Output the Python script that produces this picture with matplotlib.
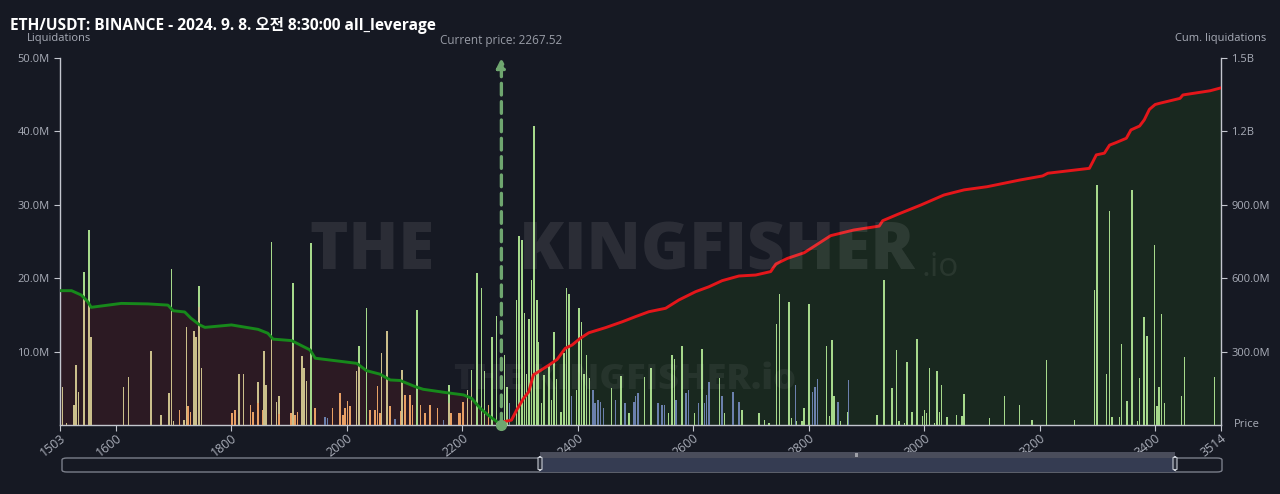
import matplotlib
matplotlib.use("Agg")
import matplotlib.pyplot as plt
import matplotlib.patches as patches
from matplotlib.ticker import FuncFormatter

plt.rcParams['font.family'] = ['Open Sans', 'Noto Sans CJK KR', 'DejaVu Sans']

# ---- data (price, value in M) ----
current_price = 2267.52

orange_price = [1710, 1725, 1729, 1801, 1806, 1833, 1837, 1846, 1855, 1882, 1902, 1904, 1910, 1914,
                1945, 1975, 1988, 1993, 1997, 2001, 2005, 2040, 2049, 2053, 2057, 2075, 2094, 2101,
                2109, 2114, 2127, 2135, 2144, 2157, 2180, 2193, 2196, 2201, 2245]
orange_value = [2.1, 2.6, 1.8, 1.6, 2.1, 2.7, 1.8, 3.0, 2.1, 1.5, 1.7, 1.6, 1.4, 1.8,
                2.3, 2.3, 4.3, 1.4, 2.3, 3.3, 2.6, 2.0, 2.0, 5.3, 1.6, 2.6, 1.9, 4.1,
                4.1, 2.7, 2.7, 1.6, 2.7, 2.3, 1.6, 1.6, 1.7, 3.2, 2.7]

khaki_price = [1507, 1514, 1527, 1531, 1535, 1545, 1553, 1557, 1613, 1622, 1661, 1678, 1692, 1696,
               1700, 1718, 1722, 1735, 1739, 1744, 1748, 1813, 1821, 1846, 1856, 1860, 1869, 1878,
               1882, 1907, 1922, 1926, 1930, 2017, 2021, 2060, 2069, 2095, 2177, 2209, 2216]
khaki_value = [5.2, 0.3, 2.7, 8.2, 4.5, 17.0, 16.5, 12.0, 5.2, 6.6, 10.1, 1.4, 4.3, 15.4,
               0.5, 0.7, 13.4, 12.8, 12.0, 16.1, 7.7, 7.0, 7.0, 2.8, 10.1, 5.4, 11.6, 3.1,
               2.5, 10.7, 9.4, 7.7, 6.0, 7.3, 8.0, 9.8, 12.8, 7.5, 3.0, 4.8, 5.0]

blue_price = [1962, 1966, 2083, 2167, 2282, 2389, 2426, 2430, 2435, 2439, 2444, 2465, 2482, 2497,
              2500, 2504, 2539, 2546, 2550, 2570, 2587, 2592, 2609, 2619, 2623, 2627, 2650, 2669,
              2679, 2777, 2806, 2811, 2815, 2851, 2869]
blue_value = [1.1, 1.0, 0.8, 0.7, 3.0, 3.9, 4.8, 3.0, 3.4, 3.2, 2.3, 3.4, 3.0, 3.2,
              3.9, 4.3, 3.0, 2.7, 2.7, 3.4, 4.3, 4.8, 3.0, 3.0, 4.1, 5.9, 3.9, 4.5,
              3.2, 5.5, 4.5, 5.2, 6.2, 3.2, 6.1]

green_price = [1504, 1545, 1553, 1696, 1744, 1869, 1907, 1938, 2021, 2034, 2121, 2177, 2216, 2225,
               2233, 2238, 2251, 2259, 2273, 2277, 2294, 2298, 2303, 2308, 2311, 2315, 2320, 2324,
               2329, 2332, 2337, 2341, 2350, 2354, 2359, 2363, 2371, 2376, 2380, 2385, 2398, 2402,
               2406, 2411, 2415, 2420, 2458, 2475, 2489, 2515, 2527, 2557, 2563, 2567, 2580, 2602,
               2615, 2645, 2654, 2684, 2714, 2723, 2731, 2744, 2749, 2766, 2770, 2779, 2788, 2792,
               2800, 2831, 2836, 2840, 2844, 2855, 2867, 2918, 2930, 2944, 2952, 2956, 2966, 2970,
               2979, 2987, 2997, 3000, 3004, 3009, 3018, 3022, 3026, 3030, 3039, 3056, 3065, 3069,
               3113, 3139, 3165, 3187, 3212, 3260, 3295, 3299, 3316, 3321, 3325, 3338, 3342, 3351,
               3360, 3369, 3373, 3381, 3386, 3399, 3403, 3407, 3411, 3416, 3446, 3451, 3503]
green_value = [4.8, 3.8, 10.1, 5.9, 2.9, 13.4, 8.7, 24.8, 2.7, 15.9, 15.7, 2.4, 2.5, 20.7,
               18.6, 7.3, 12.0, 14.8, 9.6, 5.2, 17.0, 25.7, 25.2, 15.2, 7.0, 14.5, 19.8, 40.7,
               17.0, 11.3, 3.0, 6.8, 8.2, 3.4, 12.7, 6.2, 1.8, 9.8, 18.6, 17.9, 4.8, 15.9,
               14.0, 7.0, 9.6, 6.4, 5.0, 6.7, 1.6, 6.6, 7.7, 1.6, 9.6, 9.0, 10.8, 1.6,
               10.3, 6.4, 1.6, 2.0, 1.7, 0.7, 0.3, 13.8, 17.8, 16.7, 0.9, 0.5, 0.5, 2.3,
               16.5, 10.8, 1.2, 11.6, 3.9, 0.5, 1.8, 1.4, 19.7, 5.0, 10.2, 0.5, 0.3, 8.6,
               1.8, 11.7, 1.2, 2.0, 1.6, 7.7, 0.3, 7.3, 1.8, 5.5, 1.1, 1.4, 1.2, 4.2,
               0.9, 4.0, 2.7, 0.7, 8.8, 0.7, 18.4, 32.7, 6.9, 29.1, 1.1, 1.1, 11.0, 3.3,
               32.0, 0.5, 6.4, 14.7, 12.1, 24.5, 2.6, 5.2, 15.1, 3.0, 4.0, 9.2, 6.5]

# cumulative liquidations (B)
long_cum_price = [1503, 1523, 1540, 1551, 1557, 1580, 1609, 1655, 1690, 1699, 1719, 1730, 1745, 1754,
                  1800, 1846, 1863, 1872, 1904, 1936, 1945, 2017, 2034, 2057, 2075, 2092, 2118, 2132,
                  2173, 2202, 2216, 2231, 2248, 2267.52]
long_cum_value = [0.549, 0.549, 0.531, 0.504, 0.481, 0.488, 0.497, 0.495, 0.490, 0.467, 0.462, 0.436,
                  0.409, 0.399, 0.409, 0.391, 0.375, 0.351, 0.345, 0.307, 0.273, 0.252, 0.222, 0.208,
                  0.184, 0.182, 0.157, 0.146, 0.132, 0.123, 0.109, 0.068, 0.034, 0.0]

short_cum_price = [2267.52, 2271, 2285, 2294, 2306, 2315, 2323, 2332, 2350, 2358, 2364, 2378, 2390,
                   2404, 2419, 2448, 2477, 2500, 2523, 2552, 2575, 2604, 2627, 2650, 2679, 2708, 2734,
                   2743, 2763, 2792, 2838, 2878, 2922, 2928, 2954, 2994, 3034, 3069, 3109, 3165, 3205,
                   3214, 3286, 3292, 3298, 3312, 3321, 3332, 3350, 3358, 3373, 3381, 3390, 3400, 3408,
                   3443, 3448, 3495, 3514]
short_cum_value = [0.0, 0.013, 0.02, 0.061, 0.109, 0.136, 0.205, 0.218, 0.245, 0.258, 0.268, 0.313,
                   0.327, 0.354, 0.377, 0.398, 0.422, 0.443, 0.463, 0.477, 0.511, 0.545, 0.565, 0.590,
                   0.609, 0.613, 0.627, 0.658, 0.681, 0.704, 0.774, 0.797, 0.813, 0.835, 0.861, 0.899,
                   0.940, 0.961, 0.974, 1.001, 1.018, 1.029, 1.049, 1.076, 1.104, 1.111, 1.144, 1.154,
                   1.172, 1.206, 1.222, 1.247, 1.290, 1.310, 1.315, 1.335, 1.349, 1.366, 1.378]

x_ticks = [1503, 1600, 1800, 2000, 2200, 2400, 2600, 2800, 3000, 3200, 3400, 3514]
left_ticks = [10, 20, 30, 40, 50]
right_ticks = [0.3, 0.6, 0.9, 1.2, 1.5]

# ---- style ----
BG = "#161923"
GRID_TXT = "#a9adb8"
SPINE = "#c3c6ce"
tiers = [(orange_price, orange_value, "#e8a065"),
         (khaki_price, khaki_value, "#cbbf8b"),
         (blue_price, blue_value, "#6b80ad"),
         (green_price, green_value, "#a6d98b")]

fig = plt.figure(figsize=(12.8, 4.94), dpi=100, facecolor=BG)
rect = [60 / 1280, 1 - 425 / 494, 1161 / 1280, 367 / 494]

# cumulative fills sit behind the bars
axc = fig.add_axes(rect, facecolor=BG)
ax = axc.twinx()
ax.set_zorder(axc.get_zorder() + 1)
ax.patch.set_visible(False)
axl = ax.twinx()
axl.set_zorder(ax.get_zorder() + 1)
axl.patch.set_visible(False)

axc.fill_between(long_cum_price, long_cum_value, 0, color="#2c1a23", lw=0)
axc.fill_between(short_cum_price, short_cum_value, 0, color="#19281f", lw=0)

# stacked bars by leverage tier
bottoms = {}
for prices, values, color in tiers:
    base = [bottoms.get(p, 0.0) for p in prices]
    ax.bar(prices, values, bottom=base, width=2.6, color=color, linewidth=0)
    for p, v, b in zip(prices, values, base):
        bottoms[p] = b + v

axl.plot(long_cum_price, long_cum_value, color="#17891b", lw=2.1)
axl.plot(short_cum_price, short_cum_value, color="#e4161a", lw=2.1)

# current price marker
cp_color = "#6fa66f"
axl.annotate("", xy=(current_price, 1.5), xytext=(current_price, 0.0),
             arrowprops=dict(arrowstyle="-|>", color=cp_color, lw=2.4, linestyle=(0, (3.5, 2)),
                             mutation_scale=14, shrinkA=0, shrinkB=0))
axl.plot([current_price], [0], "o", color=cp_color, ms=7, clip_on=False)
axl.annotate(f"Current price: {current_price}", xy=(current_price, 1.5), xytext=(0, 8),
             textcoords="offset points", ha="center", va="bottom", color="#989ca6", fontsize=8.5)

# axes ranges and ticks
for a in (axc, ax, axl):
    a.set_xlim(1503, 3514)
axc.set_ylim(0, 1.5)
axl.set_ylim(0, 1.5)
ax.set_ylim(0, 50)

ax.yaxis.tick_left()
ax.set_yticks(left_ticks)
ax.yaxis.set_major_formatter(FuncFormatter(lambda v, p: f"{v:.1f}M"))
axc.yaxis.tick_right()
axc.set_yticks(right_ticks)
axc.yaxis.set_major_formatter(
    FuncFormatter(lambda v, p: f"{v:.1f}B" if v >= 1 else f"{v * 1000:.1f}M"))
axl.set_yticks([])

axc.set_xticks(x_ticks)
axc.set_xticklabels([str(t) for t in x_ticks], rotation=38, ha="right", rotation_mode="anchor")

for a in (axc, ax):
    a.tick_params(colors=SPINE, labelcolor=GRID_TXT, labelsize=8, length=4, width=0.8)
axc.tick_params(axis="x", pad=1, labelsize=9)
for a in (axc, ax, axl):
    for s in a.spines.values():
        s.set_visible(False)
axc.spines["bottom"].set_visible(True)
axc.spines["right"].set_visible(True)
ax.spines["left"].set_visible(True)
for s in (axc.spines["bottom"], axc.spines["right"], ax.spines["left"]):
    s.set_color(SPINE)
    s.set_linewidth(1.0)

# texts
fig.text(10 / 1280, 1 - 25 / 494, "ETH/USDT: BINANCE - 2024. 9. 8. 오전 8:30:00 all_leverage",
         color="white", fontsize=11.2, fontweight="bold", va="center", ha="left")
fig.text(59 / 1280, 1 - 39 / 494, "Liquidations", color=GRID_TXT, fontsize=8, ha="center", va="center")
fig.text(1221 / 1280, 1 - 39 / 494, "Cum. liquidations", color=GRID_TXT, fontsize=8, ha="center", va="center")
fig.text(1247 / 1280, 1 - 424 / 494, "Price", color=GRID_TXT, fontsize=8, ha="center", va="center")

# watermarks
fig.text(612 / 1280, 1 - 252 / 494, "THE     KINGFISHER", color="white", alpha=0.09,
         fontsize=47, fontweight="heavy", ha="center", va="center")
fig.text(940 / 1280, 1 - 268 / 494, ".io", color="white", alpha=0.07, fontsize=24,
         ha="center", va="center")
fig.text(625 / 1280, 1 - 380 / 494, "THE KINGFISHER.io", color="white", alpha=0.06,
         fontsize=26, fontweight="heavy", ha="center", va="center")

# range slider under the chart
W, H = 1280, 494
def fbox(x0, y0, x1, y1, **kw):
    return patches.FancyBboxPatch((x0 / W, 1 - y1 / H), (x1 - x0) / W, (y1 - y0) / H,
                                  transform=fig.transFigure, **kw)
fig.patches.append(fbox(62, 458, 1222, 472, boxstyle="round,pad=0,rounding_size=0.004",
                        fc="none", ec="#7a7e8a", lw=1.0))
fig.patches.append(patches.Rectangle((540 / W, 1 - 458 / H), (1175 - 540) / W, 6 / H,
                                     transform=fig.transFigure, fc="#4a4d5b", ec="none"))
fig.patches.append(patches.Rectangle((540 / W, 1 - 472 / H), (1175 - 540) / W, 14 / H,
                                     transform=fig.transFigure, fc="#353c52", ec="none"))
for hx in (540, 1175):
    fig.patches.append(fbox(hx - 2, 457, hx + 2, 470, boxstyle="round,pad=0,rounding_size=0.002",
                            fc="#2a2e3a", ec="#c8ccd4", lw=0.8))
fig.text(857 / W, 1 - 455 / H, "III", color="white", fontsize=4, ha="center", va="center")

fig.savefig("out.png", dpi=100, facecolor=BG)
